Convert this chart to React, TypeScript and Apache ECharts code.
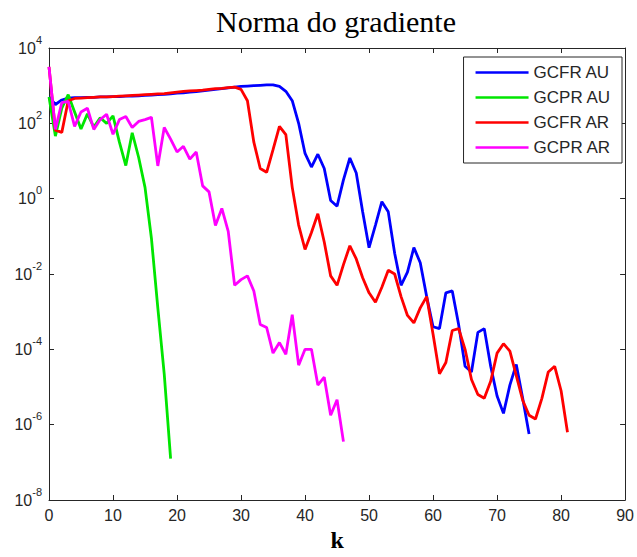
import React, { useEffect, useRef } from "react";
import * as echarts from "echarts";

// Iteration index k and log10 of the gradient norm for each method
const gcfrAuLog10 = [
  2.7, 2.5, 2.62, 2.67, 2.68, 2.68, 2.69, 2.69, 2.7, 2.7,
  2.71, 2.71, 2.72, 2.72, 2.73, 2.74, 2.75, 2.76, 2.77, 2.78,
  2.8, 2.81, 2.83, 2.84, 2.86, 2.88, 2.9, 2.92, 2.94, 2.96,
  2.98, 2.99, 3.0, 3.01, 3.02, 3.02, 2.98, 2.85, 2.6, 2.0,
  1.2, 0.84, 1.18, 0.8, -0.05, -0.2, 0.5, 1.08, 0.68, -0.35,
  -1.3, -0.7, -0.08, -0.35, -1.45, -2.3, -1.95, -1.3, -1.7, -2.6,
  -3.4, -3.45, -2.5, -2.45, -3.35, -4.45, -4.6, -3.55, -3.45, -4.45,
  -5.24, -5.7, -4.95, -4.4, -5.3, -6.25,
];

const gcprAuLog10 = [
  2.7, 1.66, 2.4, 2.76, 2.3, 1.85, 2.25, 1.9, 2.15, 2.0,
  2.2, 1.5, 0.88, 1.75, 1.1, 0.3, -1.05, -2.9, -4.65, -6.9,
];

const gcfrArLog10 = [
  3.5, 1.82, 1.76, 2.6, 2.66, 2.67, 2.68, 2.69, 2.7, 2.7,
  2.71, 2.72, 2.73, 2.74, 2.75, 2.76, 2.77, 2.78, 2.79, 2.81,
  2.83, 2.85, 2.86, 2.87, 2.88, 2.9, 2.92, 2.93, 2.95, 2.96,
  2.9, 2.6, 1.5, 0.8, 0.7, 1.3, 1.92, 1.7, 0.3, -0.7,
  -1.35, -0.9, -0.4, -1.15, -2.05, -2.3, -1.75, -1.25, -1.6, -2.1,
  -2.5, -2.75, -2.35, -1.9, -2.0, -2.6, -3.1, -3.3, -2.9, -2.6,
  -3.6, -4.65, -4.35, -3.5, -3.45, -4.0, -4.8, -5.2, -5.3, -4.85,
  -4.1, -3.85, -4.05, -4.7, -5.35, -5.75, -5.85, -5.3, -4.6, -4.45,
  -5.1, -6.2,
];

const gcprArLog10 = [
  3.5, 1.84, 2.55, 2.58, 1.92, 2.3, 2.4, 1.84, 2.1, 2.24,
  1.71, 2.1, 2.18, 1.89, 2.05, 2.1, 2.16, 0.87, 1.89, 1.58,
  1.24, 1.39, 1.05, 1.24, 0.34, 0.18, -0.71, -0.26, -0.87, -2.3,
  -2.15, -2.05, -2.45, -3.34, -3.42, -4.1, -3.82, -4.13, -3.08, -4.42,
  -4.0, -4.0, -4.95, -4.74, -5.75, -5.34, -6.45,
];

const seriesNames = ["GCFR AU", "GCPR AU", "GCFR AR", "GCPR AR"];
const seriesColors = ["#0000ff", "#00e600", "#ff0000", "#ff00ff"];
const seriesData = [gcfrAuLog10, gcprAuLog10, gcfrArLog10, gcprArLog10];

const xTicks = { min: 0, max: 90, interval: 10 };
const yExponents = { min: -8, max: 4, interval: 2 };

const titleText = "Norma do gradiente";
const xLabel = "k";

const AXIS_COLOR = "#262626";
const SANS = "'Liberation Sans', Arial, sans-serif";
const SERIF = "'Liberation Serif', 'Times New Roman', serif";

export default function App() {
  const ref = useRef<HTMLDivElement>(null);

  useEffect(() => {
    document.body.style.margin = "0";
    if (!ref.current) return;
    const chart = echarts.init(ref.current, null, { renderer: "svg" });

    const axisCommon = {
      axisLine: { show: true, onZero: false, lineStyle: { color: AXIS_COLOR, width: 1 } },
      axisTick: { show: true, inside: true, length: 5, lineStyle: { color: AXIS_COLOR, width: 1 } },
      splitLine: { show: false },
    };

    const option: any = {
      animation: false,
      backgroundColor: "#ffffff",
      grid: { left: 49, right: 8, top: 48, bottom: 53, containLabel: false },
      graphic: [
        {
          type: "text",
          x: 336,
          y: 21,
          style: {
            text: titleText,
            fontSize: 30,
            fontFamily: SERIF,
            fill: "#000000",
            align: "center",
            verticalAlign: "middle",
          },
        },
      ],
      legend: {
        data: seriesNames,
        orient: "vertical",
        right: 15,
        top: 57,
        padding: [7, 11, 7, 12],
        itemWidth: 53,
        itemHeight: 17,
        itemGap: 8,
        icon: "path://M0,0L53,0L53,2.4L0,2.4Z",
        borderColor: AXIS_COLOR,
        borderWidth: 1,
        borderRadius: 0,
        backgroundColor: "#ffffff",
        textStyle: { fontSize: 17, fontFamily: SANS, color: AXIS_COLOR, lineHeight: 17 },
      },
      xAxis: [
        {
          type: "value",
          position: "bottom",
          min: xTicks.min,
          max: xTicks.max,
          interval: xTicks.interval,
          ...axisCommon,
          axisLabel: { show: true, margin: 7, fontSize: 16, fontFamily: SANS, color: AXIS_COLOR },
          name: xLabel,
          nameLocation: "middle",
          nameGap: 28,
          nameTextStyle: { fontSize: 24, fontWeight: "bold", fontFamily: SERIF, color: "#000000" },
        },
        {
          type: "value",
          position: "top",
          min: xTicks.min,
          max: xTicks.max,
          interval: xTicks.interval,
          ...axisCommon,
          axisLabel: { show: false },
        },
      ],
      yAxis: [
        {
          type: "value",
          position: "left",
          min: yExponents.min,
          max: yExponents.max,
          interval: yExponents.interval,
          ...axisCommon,
          axisLabel: {
            show: true,
            margin: 7,
            formatter: (v: number) => `{b|10}{s|${Math.round(v)}}`,
            rich: {
              b: { fontSize: 16, fontFamily: SANS, color: AXIS_COLOR, lineHeight: 28, verticalAlign: "middle" },
              s: { fontSize: 11, fontFamily: SANS, color: AXIS_COLOR, lineHeight: 11, verticalAlign: "top" },
            },
          },
        },
        {
          type: "value",
          position: "right",
          min: yExponents.min,
          max: yExponents.max,
          interval: yExponents.interval,
          ...axisCommon,
          axisLabel: { show: false },
        },
      ],
      series: seriesNames.map((name, i) => ({
        name,
        type: "line",
        xAxisIndex: 0,
        yAxisIndex: 0,
        symbol: "none",
        showSymbol: false,
        smooth: false,
        color: seriesColors[i],
        lineStyle: { color: seriesColors[i], width: 2.8 },
        data: seriesData[i].map((v, k) => [k, v]),
      })),
    };

    chart.setOption(option);
    return () => chart.dispose();
  }, []);

  return <div ref={ref} style={{ width: 637, height: 557 }} />;
}
